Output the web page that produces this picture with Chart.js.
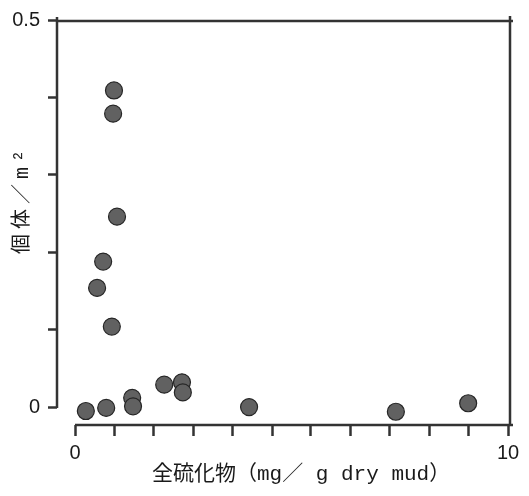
<!DOCTYPE html>
<html>
<head>
<meta charset="utf-8">
<script src="https://cdn.jsdelivr.net/npm/chart.js@4.4.1/dist/chart.umd.min.js"></script>
<style>
html, body { margin: 0; padding: 0; background: #fff; }
</style>
</head>
<body>
<canvas id="chart" width="529" height="496"></canvas>
<script>
// values
const sulfide = [0.90, 0.88, 0.97, 0.65, 0.51, 0.85, 0.25, 0.72, 1.32, 1.34, 2.06, 2.47, 2.49, 4.02, 7.41, 9.08];
const density = [0.409, 0.379, 0.246, 0.188, 0.154, 0.104, -0.005, -0.001, 0.012, 0.001, 0.029, 0.032, 0.019, 0.000, -0.006, 0.005];

const xTicks = [0, 0.91, 1.82, 2.73, 3.64, 4.55, 5.45, 6.36, 7.27, 8.18, 9.09, 10];
const xTickLabels = { 0: "0", 10: "10" };
const yTicks = [0, 0.1, 0.2, 0.3, 0.4, 0.5];
const yTickLabels = { 0: "0", 0.5: "0.5" };

const xTitle = "全硫化物（mg／ g dry mud）";
const yTitle = "個体／m²";

const ink = "#333";
const titleFont = "'Liberation Mono', 'Noto Sans CJK JP', monospace";

// axis lines + titles, drawn around the plot like the original (broken frame)
const framePlugin = {
    id: "frame",
    beforeDatasetsDraw(chart) {
        const { ctx, chartArea } = chart;
        const x = chart.scales.x;
        const y = chart.scales.y;
        const x0 = x.getPixelForValue(0);
        const y0 = y.getPixelForValue(0);
        const yTop = y.getPixelForValue(0.5);

        ctx.save();
        ctx.strokeStyle = ink;
        ctx.lineWidth = 2.5;
        ctx.beginPath();
        // left axis, stops at 0
        ctx.moveTo(chartArea.left, yTop - 3);
        ctx.lineTo(chartArea.left, y0 + 1);
        // top
        ctx.moveTo(chartArea.left, yTop + 1);
        ctx.lineTo(chartArea.right + 3, yTop + 1);
        // right
        ctx.moveTo(chartArea.right, yTop - 4);
        ctx.lineTo(chartArea.right, chartArea.bottom + 1);
        // bottom axis, starts at 0
        ctx.moveTo(x0, chartArea.bottom);
        ctx.lineTo(chartArea.right + 3, chartArea.bottom);
        ctx.stroke();
        ctx.restore();
    },
    afterDraw(chart) {
        const { ctx } = chart;
        ctx.save();
        ctx.fillStyle = "#1a1a1a";
        ctx.textBaseline = "middle";
        ctx.textAlign = "left";

        ctx.font = "21px " + titleFont;
        ctx.fillText(xTitle, 152, 474);

        ctx.translate(23, 254);
        ctx.rotate(-Math.PI / 2);
        ctx.font = "20px " + titleFont;
        ctx.letterSpacing = "5px";
        ctx.fillText(yTitle, 0, 0);
        ctx.restore();
    }
};

const ctx = document.getElementById("chart");

new Chart(ctx, {
    type: "scatter",
    data: {
        datasets: [{
            data: sulfide.map((v, i) => ({ x: v, y: density[i] })),
            backgroundColor: "#616161",
            borderColor: "#262626",
            borderWidth: 1.2,
            pointRadius: 8.5,
            pointHoverRadius: 8.5
        }]
    },
    options: {
        responsive: false,
        animation: false,
        events: [],
        layout: {
            padding: { top: 17, right: 19, left: 0, bottom: 0 }
        },
        plugins: {
            legend: { display: false },
            tooltip: { enabled: false }
        },
        scales: {
            x: {
                type: "linear",
                min: -0.416,
                max: 10.046,
                afterBuildTicks: scale => {
                    scale.ticks = xTicks.map(v => ({ value: v }));
                },
                afterFit: scale => {
                    scale.height = 71;
                },
                ticks: {
                    autoSkip: false,
                    maxRotation: 0,
                    padding: 5,
                    color: "#1a1a1a",
                    font: { family: "'Liberation Sans', sans-serif", size: 20 },
                    callback: v => xTickLabels[v] ?? ""
                },
                grid: {
                    drawOnChartArea: false,
                    drawTicks: true,
                    tickLength: 11,
                    tickWidth: 2.5,
                    tickColor: ink
                },
                border: { display: false }
            },
            y: {
                type: "linear",
                min: -0.0231,
                max: 0.5,
                afterBuildTicks: scale => {
                    scale.ticks = yTicks.map(v => ({ value: v }));
                },
                afterFit: scale => {
                    scale.width = 57;
                },
                ticks: {
                    autoSkip: false,
                    padding: 8,
                    color: "#1a1a1a",
                    font: { family: "'Liberation Sans', sans-serif", size: 20 },
                    callback: v => yTickLabels[v] ?? ""
                },
                grid: {
                    drawOnChartArea: false,
                    drawTicks: true,
                    tickLength: 9,
                    tickWidth: 2.5,
                    tickColor: ink
                },
                border: { display: false }
            }
        }
    },
    plugins: [framePlugin]
});
</script>
</body>
</html>
